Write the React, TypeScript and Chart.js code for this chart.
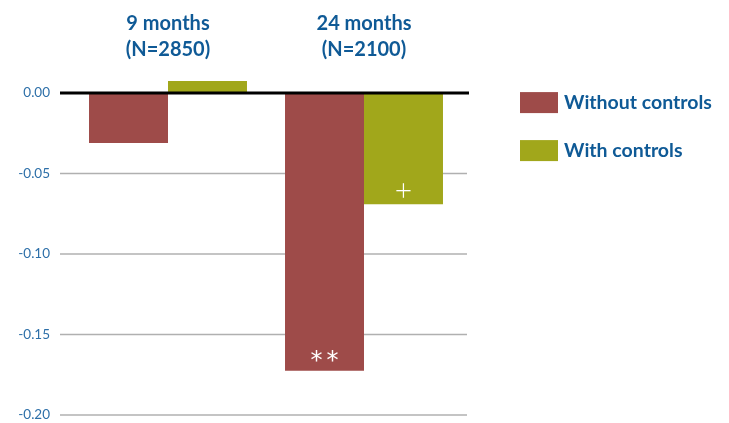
import React, { useEffect, useRef } from "react";
import { Chart, registerables } from "chart.js";

Chart.register(...registerables);

const categories: string[][] = [["9 months", "(N=2850)"], ["24 months", "(N=2100)"]];
const seriesNames = ["Without controls", "With controls"];
const withoutControls = [-0.031, -0.1725];
const withControls = [0.0075, -0.069];
const withoutMarks = ["", "**"];
const withMarks = ["", "+"];
const yTicks = [0, -0.05, -0.1, -0.15, -0.2];

const RED = "#9E4B49";
const GREEN = "#A1A71B";
const BLUE = "#0F5A96";
const TICKBLUE = "#2D6FA8";
const FONT = "Lato, 'Open Sans', sans-serif";

const gridPlugin = {
  id: "customGrid",
  beforeDatasetsDraw(chart: any) {
    const { ctx, chartArea, scales } = chart;
    ctx.save();
    ctx.strokeStyle = "#b0b0b0";
    ctx.lineWidth = 1.5;
    yTicks.forEach((v) => {
      if (v === 0) return;
      const y = scales.y.getPixelForValue(v);
      ctx.beginPath();
      ctx.moveTo(chartArea.left - 10, y);
      ctx.lineTo(chartArea.right + 5, y);
      ctx.stroke();
    });
    ctx.restore();
  },
  afterDatasetsDraw(chart: any) {
    const { ctx, chartArea, scales } = chart;
    ctx.save();
    const y0 = scales.y.getPixelForValue(0);
    ctx.strokeStyle = "#000";
    ctx.lineWidth = 3;
    ctx.beginPath();
    ctx.moveTo(chartArea.left - 10, y0);
    ctx.lineTo(chartArea.right + 7, y0);
    ctx.stroke();

    // significance marks
    ctx.fillStyle = "#ffffff";
    ctx.textAlign = "center";
    ctx.textBaseline = "middle";
    const marks = [withoutMarks, withMarks];
    marks.forEach((arr, di) => {
      const meta = chart.getDatasetMeta(di);
      arr.forEach((m, i) => {
        if (!m) return;
        const el = meta.data[i];
        if (m === "**") {
          ctx.font = `24px 'DejaVu Sans', sans-serif`;
          ctx.fillText("*", el.x - 8, el.y - 9);
          ctx.fillText("*", el.x + 8, el.y - 9);
        } else {
          ctx.font = `300 30px ${FONT}`;
          ctx.fillText(m, el.x, el.y - 13);
        }
      });
    });

    // legend
    const colors = [RED, GREEN];
    const lx = chartArea.right + 58;
    seriesNames.forEach((name, i) => {
      const top = y0 - 1 + i * 48;
      ctx.fillStyle = colors[i];
      ctx.fillRect(lx, top, 38, 21);
      ctx.fillStyle = BLUE;
      ctx.font = `bold 19.5px ${FONT}`;
      ctx.textAlign = "left";
      ctx.textBaseline = "middle";
      ctx.fillText(name, lx + 44, top + 10.5);
    });
    ctx.restore();
  },
};

export default function App() {
  const ref = useRef<HTMLCanvasElement | null>(null);
  useEffect(() => {
    if (!ref.current) return;
    const chart = new Chart(ref.current, {
      type: "bar",
      data: {
        labels: categories,
        datasets: [
          { label: seriesNames[0], data: withoutControls, backgroundColor: RED, categoryPercentage: 0.806, barPercentage: 1 },
          { label: seriesNames[1], data: withControls, backgroundColor: GREEN, categoryPercentage: 0.806, barPercentage: 1 },
        ],
      },
      options: {
        animation: false,
        responsive: true,
        maintainAspectRatio: false,
        layout: { padding: { left: 0, right: 267, top: 0, bottom: 8 } },
        plugins: { legend: { display: false }, tooltip: { enabled: false } },
        scales: {
          x: {
            position: "top",
            grid: { display: false, drawTicks: false },
            border: { display: false },
            ticks: { color: BLUE, font: { family: FONT, size: 20, weight: "bold", lineHeight: 1.3 }, padding: 14 },
            afterFit: (s: any) => { s.height = 77; s.paddingLeft = 0; s.paddingRight = 0; },
          },
          y: {
            min: -0.2,
            max: 0.01,
            grid: { display: false, drawTicks: false },
            border: { display: false },
            afterBuildTicks: (s: any) => { s.ticks = yTicks.map((v) => ({ value: v })); },
            ticks: {
              color: TICKBLUE,
              font: { family: FONT, size: 13.5 },
              padding: 20,
              callback: (v: any) => Number(v).toFixed(2),
            },
            afterFit: (s: any) => { s.width = 70; s.paddingTop = 0; s.paddingBottom = 0; },
          },
        },
      },
      plugins: [gridPlugin],
    });
    return () => chart.destroy();
  }, []);
  return (
    <div style={{ position: "fixed", left: 0, top: 0, width: 729, height: 423, background: "#fff" }}>
      <canvas ref={ref} />
    </div>
  );
}
